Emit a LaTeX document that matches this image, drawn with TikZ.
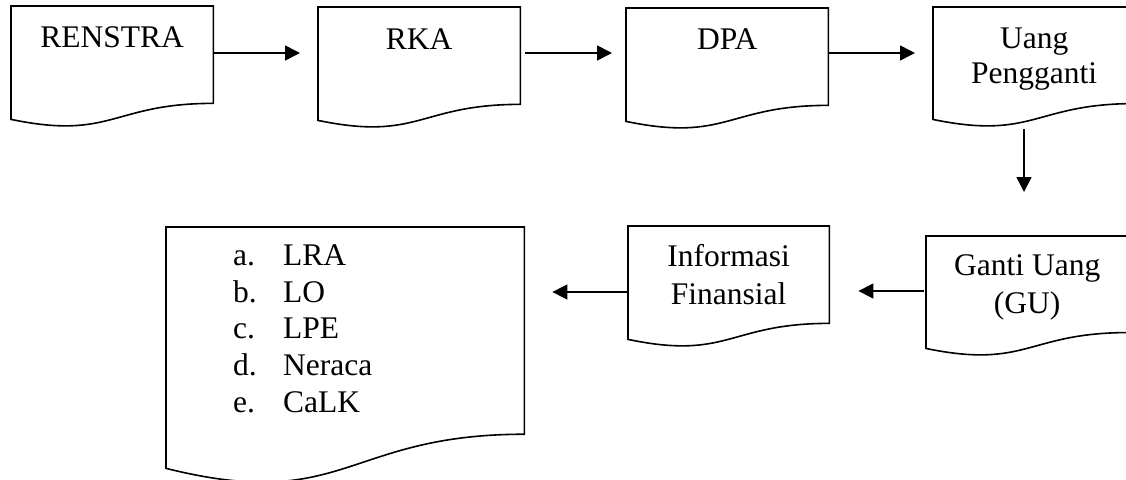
\documentclass[tikz,border=0pt]{standalone}
\usepackage{fontspec}
\setmainfont{Liberation Serif}
\usetikzlibrary{arrows.meta,calc}
\newcommand\docpath[1]{%
  \draw[docline] (#1.north west) -- (#1.north east)
    -- ($(#1.north east)!0.802!(#1.south east)$)
    .. controls ($(#1.north)!0.802!(#1.south)$) and ($(#1.north)!1.1075!(#1.south)$)
    .. ($(#1.north west)!0.934!(#1.south west)$) -- cycle;}
\begin{document}
\begin{tikzpicture}[x=1pt,y=-1pt,
  frame/.style={draw=none, inner sep=0pt, anchor=north west},
  docline/.style={line width=1.6pt, line join=miter},
  txt/.style={font=\fontsize{31.5}{37}\selectfont, inner sep=0pt, align=center},
  arr/.style={line width=1.6pt, -{Triangle[length=15pt,width=15pt]}}]
\useasboundingbox (0,0) rectangle (1126,479);
\clip (0,0) rectangle (1126,479);
% frames
\node[frame, minimum width=202pt, minimum height=121pt] (renstra) at (11,6) {};
\node[frame, minimum width=202pt, minimum height=121pt] (rka) at (318,7) {};
\node[frame, minimum width=202pt, minimum height=121pt] (dpa) at (626,8) {};
\node[frame, minimum width=202pt, minimum height=120pt] (up) at (933,7) {};
\node[frame, minimum width=202pt, minimum height=120pt] (gu) at (926,236) {};
\node[frame, minimum width=201pt, minimum height=121pt] (inf) at (628,226) {};
\node[frame, minimum width=358pt, minimum height=258pt] (lap) at (166,227) {};
\foreach \n in {renstra,rka,dpa,up,gu,inf,lap} {\docpath{\n}}
% texts (base anchor = baseline of the last line)
\node[txt, anchor=base] (trenstra) at ($(renstra.north)+(0,41)$) {RENSTRA};
\node[txt, anchor=base] (trka) at ($(rka.north)+(0,42)$) {RKA};
\node[txt, anchor=base] (tdpa) at ($(dpa.north)+(0,41)$) {DPA};
\node[txt, anchor=base, font=\fontsize{31.5}{35}\selectfont] (tup) at ($(up.north)+(0,76)$) {Uang\\Pengganti};
\node[txt, anchor=base, font=\fontsize{31.5}{38}\selectfont] (tgu) at ($(gu.north)+(0,77)$) {Ganti Uang\\(GU)};
\node[txt, anchor=base, font=\fontsize{31.5}{38}\selectfont] (tinf) at ($(inf.north)+(0,78)$) {Informasi\\Finansial};
\node[txt, anchor=base west, align=left, font=\fontsize{31.5}{36.6}\selectfont] (tlap) at (233,412)
  {\makebox[50pt][l]{a.}LRA\\\makebox[50pt][l]{b.}LO\\\makebox[50pt][l]{c.}LPE\\\makebox[50pt][l]{d.}Neraca\\\makebox[50pt][l]{e.}CaLK};
% connectors
\draw[arr] (renstra.east |- 0,53) -- ([xshift=-18pt]rka.west |- 0,53);
\draw[arr] ([xshift=5pt]rka.east |- 0,53) -- ([xshift=-14pt]dpa.west |- 0,53);
\draw[arr] (dpa.east |- 0,53) -- ([xshift=-18pt]up.west |- 0,53);
\draw[arr] ([yshift=-2pt]up.south -| 1024,0) -- ([yshift=44pt]gu.north -| 1024,0);
\draw[arr] ([xshift=-2pt]gu.west |- 0,291) -- ([xshift=29pt]inf.east |- 0,291);
\draw[arr] (inf.west |- 0,292) -- ([xshift=28pt]lap.east |- 0,292);
\end{tikzpicture}
\end{document}
